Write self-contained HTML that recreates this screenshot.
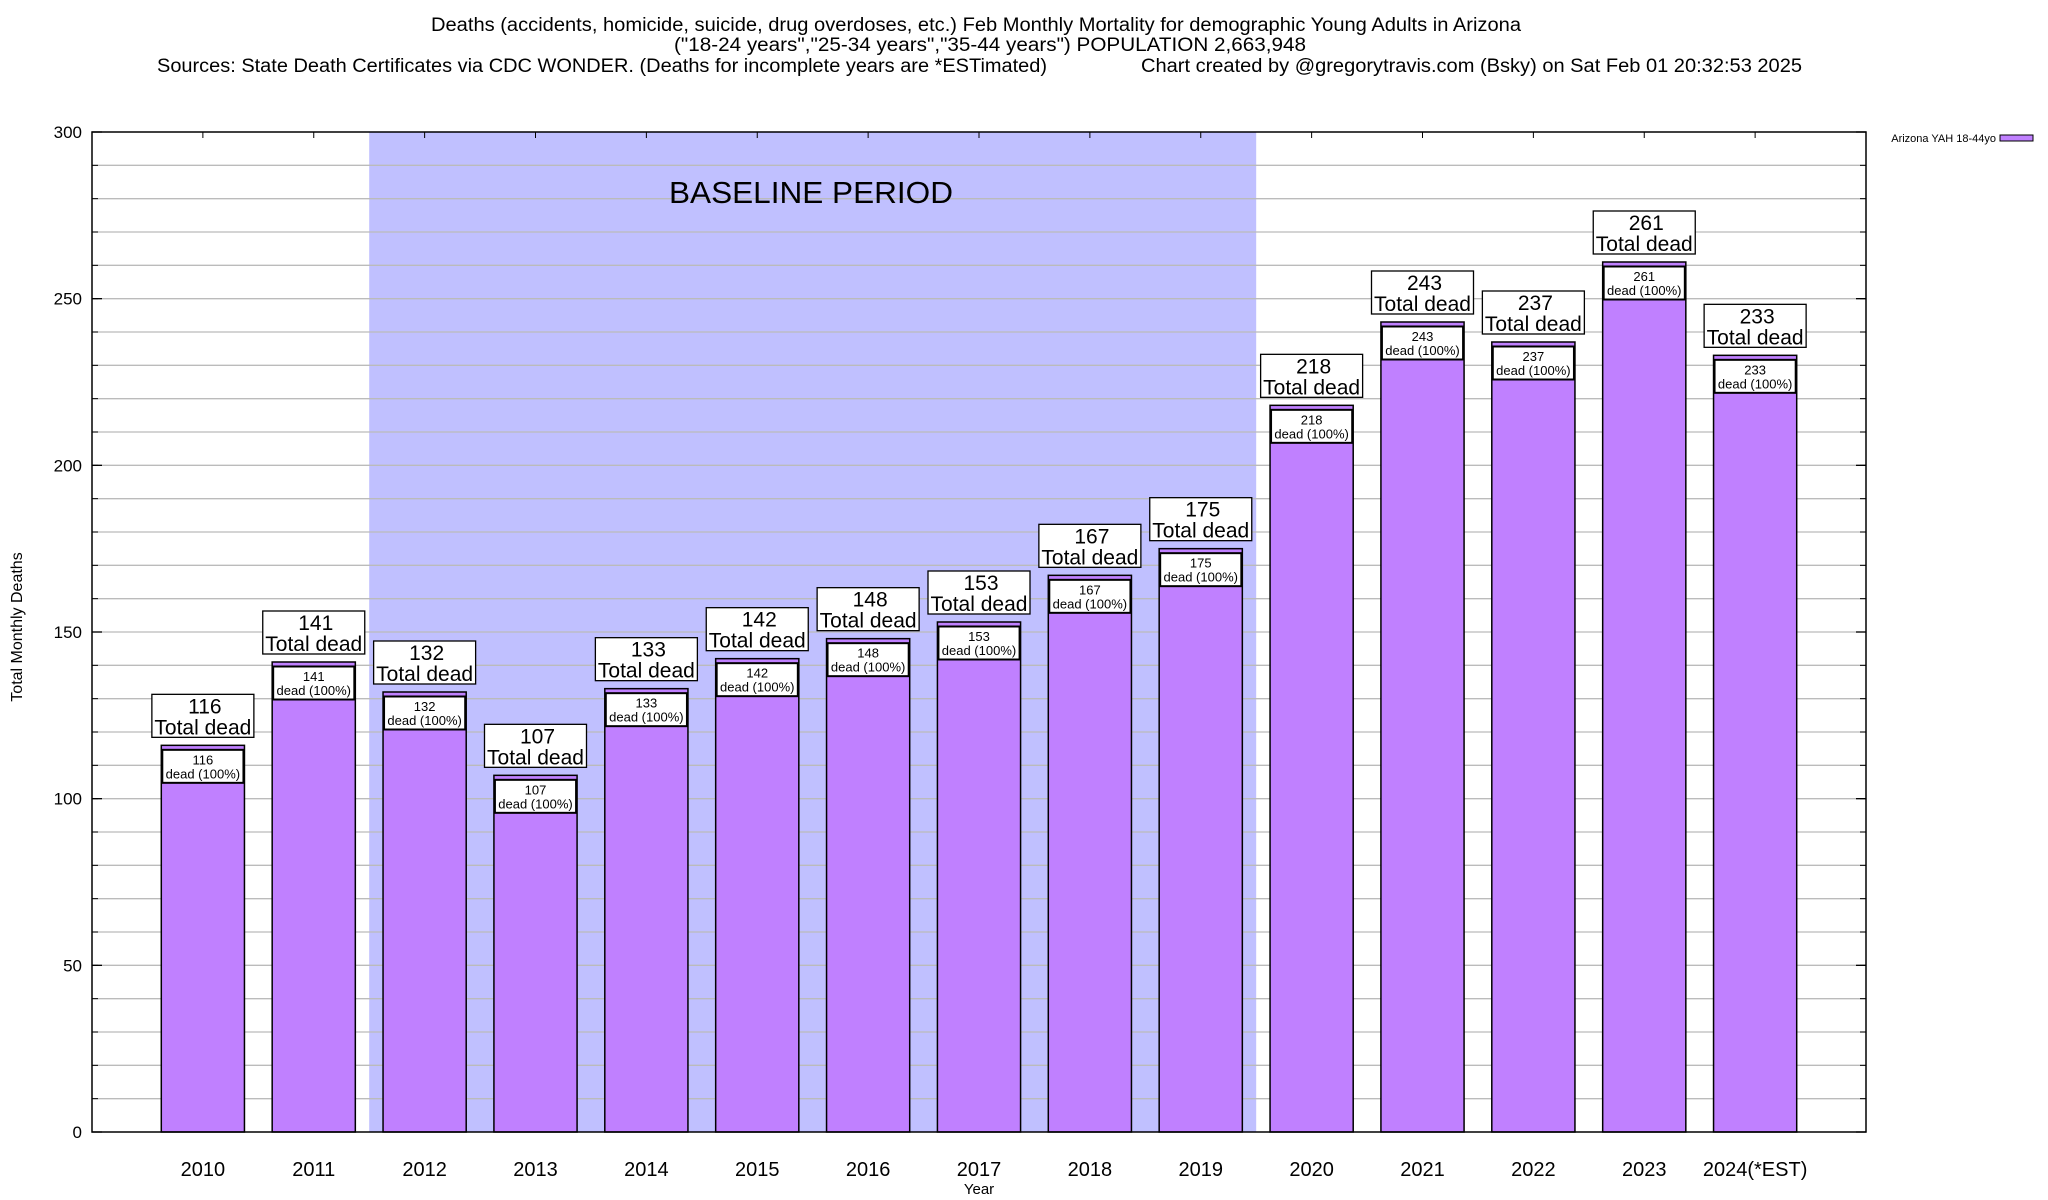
<!DOCTYPE html>
<html><head><meta charset="utf-8"><style>
html,body{margin:0;padding:0;background:#fff;}
svg{display:block;font-family:"Liberation Sans",sans-serif;}
</style></head><body>
<svg id="chart" width="2048" height="1200" viewBox="0 0 2048 1200" xmlns="http://www.w3.org/2000/svg">
<g font-size="19" fill="#000">
<text x="431" y="31" textLength="1090" lengthAdjust="spacingAndGlyphs">Deaths (accidents, homicide, suicide, drug overdoses, etc.) Feb Monthly Mortality for demographic Young Adults in Arizona</text>
<text x="674" y="51" textLength="632" lengthAdjust="spacingAndGlyphs">("18-24 years","25-34 years","35-44 years") POPULATION 2,663,948</text>
<text x="157" y="72" textLength="890" lengthAdjust="spacingAndGlyphs">Sources: State Death Certificates via CDC WONDER. (Deaths for incomplete years are *ESTimated)</text>
<text x="1141" y="72" textLength="661" lengthAdjust="spacingAndGlyphs">Chart created by @gregorytravis.com (Bsky) on Sat Feb 01 20:32:53 2025</text>
</g>
<g id="baseline"></g>
<g id="grid"></g>
<g id="baselineText"></g>
<g id="bars"></g>
<g id="axes"></g>
<text x="0" y="0" font-size="16" text-anchor="middle" transform="translate(22,627) rotate(-90)">Total Monthly Deaths</text>
<text x="979" y="1194" font-size="15" text-anchor="middle">Year</text>
<g>
<text x="1996" y="142" font-size="11" text-anchor="end">Arizona YAH 18-44yo</text>
<rect x="2000" y="135" width="33" height="6" fill="#c080ff" stroke="#000" stroke-width="1"/>
</g>
</svg>
<script>
const categories = ["2010","2011","2012","2013","2014","2015","2016","2017","2018","2019","2020","2021","2022","2023","2024(*EST)"];
const deaths = [116,141,132,107,133,142,148,153,167,175,218,243,237,261,233];
const yTicks = [0,50,100,150,200,250,300];
const baselineRange = [1.5, 9.5];
const baselineLabel = "BASELINE PERIOD";

const NS = "http://www.w3.org/2000/svg";
const L = 92, R = 1866, T = 132, B = 1132;
const yMax = 300;
const xs = i => L + (i + 1) * (R - L) / (categories.length + 1);
const ys = v => B - v * (B - T) / yMax;
const unit = (R - L) / (categories.length + 1);
function mk(tag, attrs, parent, text) {
  const e = document.createElementNS(NS, tag);
  for (const k in attrs) e.setAttribute(k, attrs[k]);
  if (text !== undefined) e.textContent = text;
  parent.appendChild(e);
  return e;
}
const gBase = document.getElementById('baseline');
const gBaseT = document.getElementById('baselineText');
const gGrid = document.getElementById('grid');
const gBars = document.getElementById('bars');
const gAxes = document.getElementById('axes');

const bx0 = xs(baselineRange[0]), bx1 = xs(baselineRange[1]);
const sh = mk('rect', {x: bx0, y: T, width: bx1 - bx0, height: B - T, fill: '#c0c0ff'}, gBase);


const bt = mk('text', {x: 669, y: 203, 'font-size': 31, textLength: 284, lengthAdjust: 'spacingAndGlyphs'}, gBaseT, baselineLabel);



for (let v = 10; v < yMax; v += 10) {
  const g = mk('line', {x1: L, x2: R, y1: ys(v), y2: ys(v), stroke: '#bbb', 'stroke-width': 1.3}, gGrid);
  
  
  mk('line', {x1: L, x2: L + 6, y1: ys(v), y2: ys(v), stroke: '#000', 'stroke-width': 1}, gAxes);
  mk('line', {x1: R - 6, x2: R, y1: ys(v), y2: ys(v), stroke: '#000', 'stroke-width': 1}, gAxes);
}

const bw = unit * 0.75;
categories.forEach((c, i) => {
  const v = deaths[i];
  const cx = xs(i), top = ys(v);
  const bar = mk('rect', {x: cx - bw / 2, y: top, width: bw, height: B - top, fill: '#c080ff', stroke: '#000', 'stroke-width': 1.5}, gBars);
  
  
  const ib = mk('rect', {x: cx - bw / 2 + 1, y: top + 4.5, width: bw - 2, height: 33, fill: '#fff', stroke: '#000', 'stroke-width': 2}, gBars);
  
  
  const t1 = mk('text', {x: cx, y: top + 19, 'font-size': 13, 'text-anchor': 'middle'}, gBars, String(v));
  
  
  const t2 = mk('text', {x: cx, y: top + 33, 'font-size': 13, 'text-anchor': 'middle'}, gBars, 'dead (100%)');
  
  
  const ob = mk('rect', {x: cx - 51, y: top - 51, width: 102, height: 43, fill: '#fff', stroke: '#000', 'stroke-width': 1.3}, gBars);
  
  
  const o1 = mk('text', {x: cx + 2, y: top - 32, 'font-size': 21, 'text-anchor': 'middle'}, gBars, String(v));
  
  
  const o2 = mk('text', {x: cx, y: top - 11, 'font-size': 21, 'text-anchor': 'middle'}, gBars, 'Total dead');
  
  
  mk('line', {x1: cx, x2: cx, y1: T, y2: T + 6, stroke: '#000', 'stroke-width': 1}, gAxes);
  const xl = mk('text', {x: cx, y: 1176, 'font-size': 20, 'text-anchor': 'middle'}, gAxes, c);
  
  
});

yTicks.forEach(v => {
  const tl = mk('text', {x: 82, y: ys(v) + 6, 'font-size': 17, 'text-anchor': 'end'}, gAxes, String(v));
  
  
  mk('line', {x1: L, x2: L + 10, y1: ys(v), y2: ys(v), stroke: '#000', 'stroke-width': 1.3}, gAxes);
  mk('line', {x1: R - 10, x2: R, y1: ys(v), y2: ys(v), stroke: '#000', 'stroke-width': 1.3}, gAxes);
});
const frame = mk('rect', {x: L, y: T, width: R - L, height: B - T, fill: 'none', stroke: '#000', 'stroke-width': 1.5}, gAxes);


</script>
</body></html>
